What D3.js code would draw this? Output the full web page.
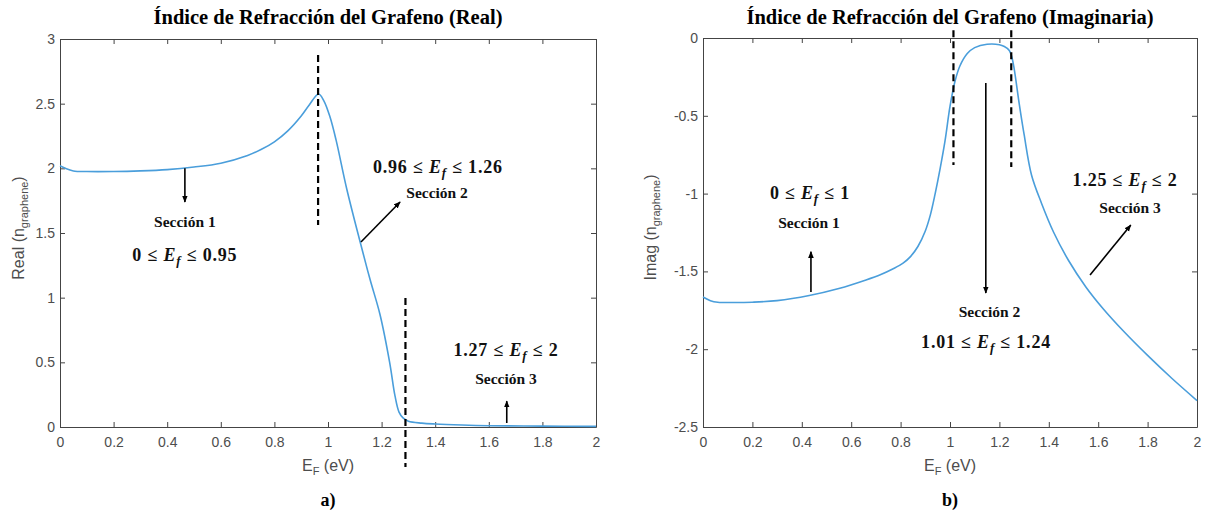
<!DOCTYPE html>
<html>
<head>
<meta charset="utf-8">
<script src="https://cdn.jsdelivr.net/npm/d3@7"></script>
<style>
  body { margin: 0; background: #fff; }
  .axis path, .axis line { stroke: #444; }
  .axis text { fill: #4d4d4d; font-family: "Liberation Sans", Arial, sans-serif; font-size: 14px; }
</style>
</head>
<body>
<div id="viz"></div>
<script>
// Energía de Fermi (eV) y parte real del índice
const energyReal = [0, 0.02, 0.05, 0.1, 0.2, 0.3, 0.4, 0.5, 0.6, 0.7, 0.75, 0.8, 0.85, 0.9, 0.93, 0.965, 0.985, 1.007, 1.03, 1.07, 1.12, 1.157, 1.194, 1.23, 1.25, 1.265, 1.28, 1.3, 1.35, 1.4, 1.5, 1.6, 1.8, 2.0];
const nReal = [2.02, 2.0, 1.98, 1.975, 1.975, 1.98, 1.99, 2.01, 2.04, 2.1, 2.145, 2.205, 2.29, 2.405, 2.49, 2.575, 2.52, 2.4, 2.22, 1.84, 1.43, 1.14, 0.87, 0.5, 0.24, 0.115, 0.07, 0.045, 0.03, 0.023, 0.015, 0.01, 0.007, 0.005];

// Energía de Fermi (eV) y parte imaginaria del índice
const energyImag = [0, 0.03, 0.06, 0.12, 0.2, 0.3, 0.43, 0.55, 0.66, 0.72, 0.77, 0.81, 0.84, 0.87, 0.9, 0.92, 0.94, 0.96, 0.98, 1.0, 1.02, 1.04, 1.07, 1.1, 1.15, 1.2, 1.22, 1.24, 1.25, 1.26, 1.28, 1.3, 1.33, 1.37, 1.42, 1.48, 1.55, 1.62, 1.7, 1.8, 1.9, 2.0];
const nImag = [-1.665, -1.688, -1.698, -1.7, -1.698, -1.688, -1.655, -1.61, -1.555, -1.52, -1.483, -1.447, -1.405, -1.34, -1.24, -1.14, -1.0, -0.84, -0.66, -0.44, -0.28, -0.18, -0.1, -0.062, -0.04, -0.043, -0.055, -0.08, -0.12, -0.2, -0.42, -0.62, -0.88, -1.06, -1.25, -1.43, -1.6, -1.74, -1.88, -2.04, -2.19, -2.33];

// Ticks
const xTicks = [0, 0.2, 0.4, 0.6, 0.8, 1, 1.2, 1.4, 1.6, 1.8, 2];
const yTicksReal = [0, 0.5, 1, 1.5, 2, 2.5, 3];
const yTicksImag = [-2.5, -2, -1.5, -1, -0.5, 0];

const width = 1205;
const height = 516;

const svg = d3.select("#viz").append("svg")
    .attr("width", width)
    .attr("height", height)
    .style("display", "block");

svg.append("rect").attr("width", width).attr("height", height).attr("fill", "#fff");

svg.append("defs").append("marker")
    .attr("id", "arrow")
    .attr("viewBox", "0 -5 10 10")
    .attr("refX", 9)
    .attr("refY", 0)
    .attr("markerWidth", 7)
    .attr("markerHeight", 7)
    .attr("markerUnits", "userSpaceOnUse")
    .attr("orient", "auto")
    .append("path")
    .attr("d", "M0,-4L10,0L0,4Z")
    .attr("fill", "#000");

const fmt = d => d3.format("~g")(d).replace("\u2212", "-");
const serif = "'Liberation Serif', 'Times New Roman', serif";
const sans = "'Liberation Sans', Arial, sans-serif";

function mathLabel(g, px, py, lo, hi) {
    const t = g.append("text")
        .attr("x", px).attr("y", py + 6)
        .attr("text-anchor", "middle")
        .attr("font-family", serif)
        .attr("font-weight", "bold")
        .attr("font-size", 18)
        .attr("letter-spacing", 0.8)
        .attr("fill", "#111");
    t.append("tspan").text(lo + " \u2264 ");
    t.append("tspan").attr("font-style", "italic").text("E");
    t.append("tspan").attr("font-style", "italic").attr("font-size", 13).attr("dy", 4).text("f");
    t.append("tspan").attr("dy", -4).text(" \u2264 " + hi);
}

function sectionLabel(g, px, py, txt) {
    g.append("text")
        .attr("x", px).attr("y", py + 5)
        .attr("text-anchor", "middle")
        .attr("font-family", serif)
        .attr("font-weight", "bold")
        .attr("font-size", 15.5)
        .attr("fill", "#111")
        .text(txt);
}

function drawPanel(p) {
    const g = svg.append("g");
    const x = d3.scaleLinear().domain([0, 2]).range([p.left, p.right]);
    const y = d3.scaleLinear().domain(p.yDomain).range([p.bottom, p.top]);

    // Box axes, MATLAB style (ticks inward)
    g.append("g").attr("class", "axis")
        .attr("transform", `translate(0,${p.bottom})`)
        .call(d3.axisBottom(x).tickValues(xTicks).tickSize(-5).tickSizeOuter(0).tickPadding(10).tickFormat(fmt));
    g.append("g").attr("class", "axis")
        .attr("transform", `translate(0,${p.top})`)
        .call(d3.axisTop(x).tickValues(xTicks).tickSize(-5).tickSizeOuter(0).tickFormat(""));
    g.append("g").attr("class", "axis")
        .attr("transform", `translate(${p.left},0)`)
        .call(d3.axisLeft(y).tickValues(p.yTicks).tickSize(-5).tickSizeOuter(0).tickPadding(5).tickFormat(fmt));
    g.append("g").attr("class", "axis")
        .attr("transform", `translate(${p.right},0)`)
        .call(d3.axisRight(y).tickValues(p.yTicks).tickSize(-5).tickSizeOuter(0).tickFormat(""));

    // Curve
    const pts = p.xs.map((e, i) => [e, p.ys[i]]);
    g.append("path")
        .datum(pts)
        .attr("fill", "none")
        .attr("stroke", "#4a9edb")
        .attr("stroke-width", 1.6)
        .attr("d", d3.line().x(d => x(d[0])).y(d => y(d[1])).curve(d3.curveCatmullRom.alpha(0.5)));

    // Dashed section limits
    p.dashes.forEach(d => {
        g.append("line")
            .attr("x1", x(d.e)).attr("x2", x(d.e))
            .attr("y1", y(d.v0)).attr("y2", y(d.v1))
            .attr("stroke", "#000")
            .attr("stroke-width", 2.2)
            .attr("stroke-dasharray", "7,4");
    });

    // Arrows
    p.arrows.forEach(a => {
        g.append("line")
            .attr("x1", x(a.e0)).attr("y1", y(a.v0))
            .attr("x2", x(a.e1)).attr("y2", y(a.v1))
            .attr("stroke", "#000")
            .attr("stroke-width", 1.6)
            .attr("marker-end", "url(#arrow)");
    });

    p.sections.forEach(s => sectionLabel(g, x(s.e), y(s.v), s.text));
    p.ranges.forEach(r => mathLabel(g, x(r.e), y(r.v), r.lo, r.hi));

    const cx = (p.left + p.right) / 2;

    // Title
    g.append("text")
        .attr("x", cx).attr("y", 24)
        .attr("text-anchor", "middle")
        .attr("font-family", serif)
        .attr("font-weight", "bold")
        .attr("font-size", 20.5)
        .attr("fill", "#000")
        .text(p.title);

    // X label
    const xl = g.append("text")
        .attr("x", cx).attr("y", 471)
        .attr("text-anchor", "middle")
        .attr("font-family", sans)
        .attr("font-size", 16)
        .attr("fill", "#4d4d4d");
    xl.append("tspan").text("E");
    xl.append("tspan").attr("font-size", 11).attr("dy", 4).text("F");
    xl.append("tspan").attr("dy", -4).text(" (eV)");

    // Y label
    const yl = g.append("text")
        .attr("transform", `translate(${p.left - p.yLabelGap},${(p.top + p.bottom) / 2 - 5}) rotate(-90)`)
        .attr("text-anchor", "middle")
        .attr("font-family", sans)
        .attr("font-size", 16)
        .attr("fill", "#4d4d4d");
    yl.append("tspan").text(p.yLabel + " (n");
    yl.append("tspan").attr("font-size", 11).attr("dy", 4).text("graphene");
    yl.append("tspan").attr("dy", -4).text(")");

    // Panel letter
    g.append("text")
        .attr("x", cx).attr("y", 506)
        .attr("text-anchor", "middle")
        .attr("font-family", serif)
        .attr("font-weight", "bold")
        .attr("font-size", 18)
        .attr("fill", "#000")
        .text(p.letter);
}

drawPanel({
    left: 60, right: 596, top: 39, bottom: 427,
    yDomain: [0, 3], yTicks: yTicksReal,
    xs: energyReal, ys: nReal,
    title: "Índice de Refracción del Grafeno (Real)",
    yLabel: "Real", yLabelGap: 36,
    letter: "a)",
    dashes: [{e: 0.963, v0: 2.877, v1: 1.562}, {e: 1.289, v0: 0.998, v1: -0.31}],
    arrows: [
        {e0: 0.466, v0: 2.0, e1: 0.466, v1: 1.74},
        {e0: 1.123, v0: 1.43, e1: 1.269, v1: 1.74},
        {e0: 1.667, v0: 0.031, e1: 1.667, v1: 0.2}
    ],
    sections: [
        {e: 0.466, v: 1.585, text: "Sección 1"},
        {e: 1.407, v: 1.81, text: "Sección 2"},
        {e: 1.664, v: 0.371, text: "Sección 3"}
    ],
    ranges: [
        {e: 0.466, v: 1.33, lo: "0", hi: "0.95"},
        {e: 1.41, v: 2.01, lo: "0.96", hi: "1.26"},
        {e: 1.664, v: 0.595, lo: "1.27", hi: "2"}
    ]
});

drawPanel({
    left: 703, right: 1197, top: 38, bottom: 427,
    yDomain: [-2.5, 0], yTicks: yTicksImag,
    xs: energyImag, ys: nImag,
    title: "Índice de Refracción del Grafeno (Imaginaria)",
    yLabel: "Imag", yLabelGap: 47,
    letter: "b)",
    dashes: [{e: 1.014, v0: 0.05, v1: -0.816}, {e: 1.248, v0: 0.05, v1: -0.829}],
    arrows: [
        {e0: 0.437, v0: -1.632, e1: 0.437, v1: -1.373},
        {e0: 1.145, v0: -0.289, e1: 1.145, v1: -1.639},
        {e0: 1.567, v0: -1.523, e1: 1.732, v1: -1.202}
    ],
    sections: [
        {e: 0.429, v: -1.189, text: "Sección 1"},
        {e: 1.16, v: -1.759, text: "Sección 2"},
        {e: 1.729, v: -1.093, text: "Sección 3"}
    ],
    ranges: [
        {e: 0.433, v: -0.996, lo: "0", hi: "1"},
        {e: 1.146, v: -1.952, lo: "1.01", hi: "1.24"},
        {e: 1.709, v: -0.913, lo: "1.25", hi: "2"}
    ]
});
</script>
</body>
</html>
